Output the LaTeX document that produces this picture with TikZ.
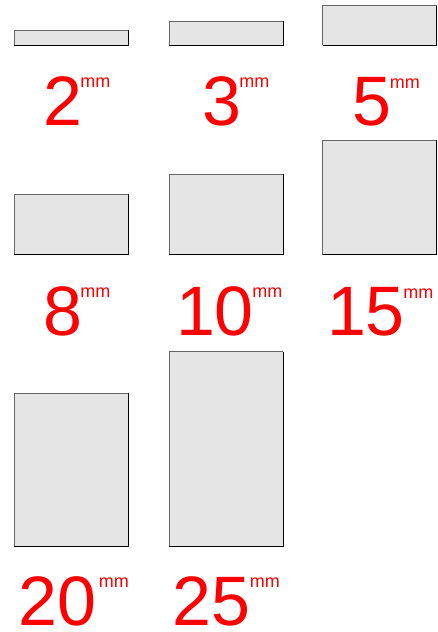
\documentclass[tikz,border=0pt]{standalone}
\usepackage{fontspec}
\setmainfont{Liberation Sans}
\usetikzlibrary{positioning}

\begin{document}
\begin{tikzpicture}[x=1pt,y=-1pt,
    sizenum/.style={text=red,font=\fontsize{70}{70}\selectfont,inner sep=0pt,anchor=base},
    sizeunit/.style={text=red,font=\fontsize{18}{18}\selectfont,inner sep=0pt,anchor=north west}]
  \useasboundingbox (0,0) rectangle (438,632);
  % plate, label, then the mm
  \foreach \t/\cx/\yb/\h/\nx/\ny/\gap in {2/71/45.3/15.3/62.5/125/-2, 3/226/45.3/24.3/221.5/125/-2, 5/379.5/45.3/39.6/372/125/-2,
      8/71/254.7/60.7/62.5/335/-2, 10/226/254.7/80.4/215/335/-2, 15/379.5/254.7/114.4/366/335/-2,
      20/71/546.7/153.4/57.5/625/2, 25/226/546.7/195/211.5/625/-1} {
    \fill[black!10] (\cx-57,\yb) rectangle (\cx+57,\yb-\h);
    \draw[black!60,line width=1pt] (\cx-57,\yb) -- (\cx-57,\yb-\h) -- (\cx+57,\yb-\h);
    \draw[line width=1pt] (\cx+57,\yb-\h) -- (\cx+57,\yb) -- (\cx-57,\yb);
    \node[sizenum] (n\t) at (\nx,\ny) {\t};
    \node[sizeunit] (u\t) at ([xshift=\gap pt,yshift=-2pt]n\t.north east) {mm};
  }
\end{tikzpicture}
\end{document}
